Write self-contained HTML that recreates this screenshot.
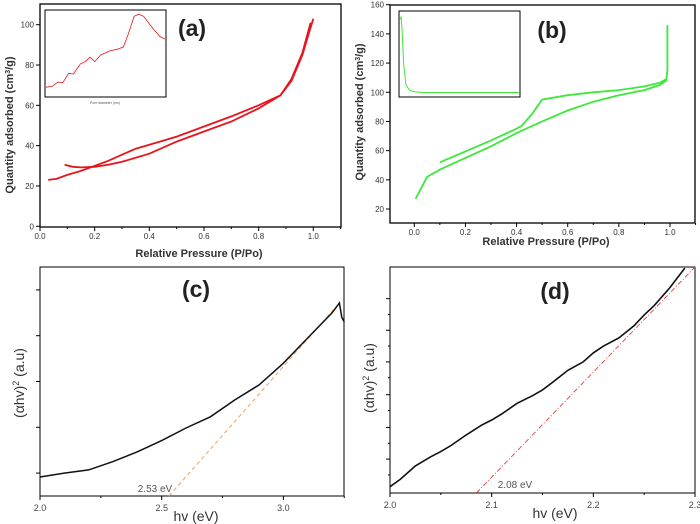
<!DOCTYPE html>
<html><head><meta charset="utf-8"><style>
html,body{margin:0;padding:0;background:#fff;width:700px;height:524px;overflow:hidden}
svg{display:block;font-family:"Liberation Sans",sans-serif}
</style></head><body>
<svg id="fig" width="700" height="524" viewBox="0 0 700 524"></svg>
<script>
// ---- Panel (a) data ----
const aAdsX=[0.03,0.06,0.1,0.15,0.2,0.25,0.3,0.35,0.4,0.5,0.6,0.7,0.8,0.88,0.92,0.96,0.98,1.0];
const aAdsY=[23,23.5,25.5,27.5,30,32.5,35.5,38.5,40.5,44.5,49.5,54.5,60,65,72,85,94,103];
const aDesX=[0.09,0.12,0.15,0.2,0.25,0.3,0.4,0.5,0.6,0.7,0.8,0.88,0.92,0.96,0.99];
const aDesY=[30.5,29.5,29.2,29.5,30.5,32,36,42,47,52,58.5,65,73,86,101];
const aInsetX=[0,0.05,0.1,0.14,0.19,0.23,0.29,0.33,0.37,0.41,0.46,0.54,0.6,0.65,0.69,0.74,0.78,0.82,0.9,0.96,1];
const aInsetY=[0.08,0.09,0.15,0.14,0.27,0.26,0.4,0.43,0.49,0.43,0.52,0.58,0.6,0.63,0.8,1.05,1.08,1.05,0.88,0.77,0.74];
const aXTicks=[0,0.2,0.4,0.6,0.8,1.0];
const aYTicks=[0,20,40,60,80,100];
// ---- Panel (b) data ----
const bAdsX=[0.005,0.05,0.1,0.2,0.3,0.4,0.5,0.6,0.7,0.8,0.9,0.96,0.985,0.99,0.99];
const bAdsY=[27,42,47,55,63,72,80,87.5,93.5,98,101.5,105,108,115,146];
const bDesX=[0.1,0.2,0.3,0.4,0.42,0.46,0.5,0.6,0.7,0.8,0.9,0.96,0.985];
const bDesY=[52,59.5,67,75,77,85,95,98,100,101.5,104,106.5,109];
const bInsetX=[0,0.01,0.02,0.03,0.05,0.08,0.12,0.2,0.5,1];
const bInsetY=[0.97,1.0,0.75,0.4,0.12,0.05,0.03,0.02,0.02,0.02];
const bXTicks=[0,0.2,0.4,0.6,0.8,1.0];
const bYTicks=[20,40,60,80,100,120,140,160];
// ---- Panel (c) data ----
const cX=[2.0,2.1,2.2,2.3,2.4,2.5,2.6,2.7,2.8,2.9,3.0,3.1,3.2,3.23,3.24,3.25];
const cY=[0.083,0.1,0.114,0.15,0.193,0.242,0.297,0.346,0.419,0.485,0.58,0.69,0.80,0.843,0.78,0.76];
const cFitX=[2.53,3.22];
const cFitY=[0,0.83];
const cXTicks=[2.0,2.5,3.0];
const cYTicks=[0.1,0.3,0.5,0.7,0.9];
// ---- Panel (d) data ----
const dX=[2.0,2.01,2.025,2.04,2.05,2.06,2.075,2.09,2.1,2.11,2.125,2.14,2.15,2.16,2.175,2.19,2.2,2.21,2.225,2.24,2.25,2.26,2.275,2.29];
const dY=[0.028,0.06,0.12,0.16,0.183,0.21,0.257,0.3,0.323,0.35,0.397,0.43,0.456,0.49,0.543,0.58,0.62,0.65,0.686,0.74,0.788,0.83,0.907,0.995];
const dFitX=[2.085,2.3];
const dFitY=[0,1.0];
const dXTicks=[2.0,2.1,2.2,2.3];
const dYTicks=[0.15,0.29,0.435,0.58,0.72,0.86];

const NS="http://www.w3.org/2000/svg";
const svg=document.getElementById('fig');
function mk(tag,attrs,parent){const e=document.createElementNS(NS,tag);for(const k in attrs)e.setAttribute(k,attrs[k]);(parent||svg).appendChild(e);return e;}
function scale(d0,d1,p0,p1){return v=>p0+(v-d0)*(p1-p0)/(d1-d0);}
function pathD(xs,ys,sx,sy){return xs.map((x,i)=>(i?'L':'M')+sx(x).toFixed(1)+','+sy(ys[i]).toFixed(1)).join(' ');}

// ===== Panel a =====
{const sx=scale(0,1,40,313.3), sy=scale(0,100,226.3,24.7);
const g=mk('g',{});  
const f=mk('rect',{x:40,y:4,width:301,height:223,fill:'none',stroke:'#000','stroke-width':1.3},g);
 
aXTicks.forEach(t=>{mk('line',{x1:sx(t),x2:sx(t),y1:227,y2:231,stroke:'#000'},g);
 mk('line',{x1:sx(t+0.1),x2:sx(t+0.1),y1:227,y2:229,stroke:'#000'},g);
 const l=mk('text',{x:sx(t),y:239,'font-size':8,'text-anchor':'middle',fill:'#333'},g);l.textContent=t.toFixed(1);
  });
aYTicks.forEach(t=>{mk('line',{x1:36,x2:40,y1:sy(t),y2:sy(t),stroke:'#000'},g);
 const l=mk('text',{x:34,y:sy(t)+3,'font-size':8,'text-anchor':'end',fill:'#333'},g);l.textContent=t;
  });
const xt=mk('text',{x:199,y:257,'font-size':11,'font-weight':'bold','text-anchor':'middle',fill:'#333'},g);xt.textContent='Relative Pressure (P/Po)';
 
const yt=mk('text',{x:13,y:125,'font-size':11,'font-weight':'bold','text-anchor':'middle',fill:'#333',transform:'rotate(-90 13 125)'},g);
yt.innerHTML='Quantity adsorbed (cm<tspan baseline-shift="super" font-size="7">3</tspan>/g)';
 
const p1=mk('path',{d:pathD(aAdsX,aAdsY,sx,sy),fill:'none',stroke:'#e8141c','stroke-width':1.8},g);
 
const p2=mk('path',{d:pathD(aDesX,aDesY,sx,sy),fill:'none',stroke:'#e8141c','stroke-width':1.8},g);
 
const ib=mk('rect',{x:45,y:10,width:121,height:87,fill:'#fff',stroke:'#000','stroke-width':1},g);
 
const isx=scale(0,1,46,165), isy=scale(0,1,93,20);
const ip=mk('path',{d:pathD(aInsetX,aInsetY,isx,isy),fill:'none',stroke:'#e8141c','stroke-width':0.8},g);
 
const it=mk('text',{x:105,y:104,'font-size':3.5,'text-anchor':'middle',fill:'#555'},g);it.textContent='Pore diameter (nm)';
 
const lb=mk('text',{x:192,y:36,'font-size':23,'font-weight':'bold','text-anchor':'middle',fill:'#222'},g);lb.textContent='(a)';
 }

// ===== Panel b =====
{const sx=scale(0,1,414.3,670), sy=scale(20,160,209,4.7);
const g=mk('g',{});  
const f=mk('rect',{x:390,y:5,width:305,height:218,fill:'none',stroke:'#000','stroke-width':1.3},g);
 
bXTicks.forEach(t=>{mk('line',{x1:sx(t),x2:sx(t),y1:223,y2:227,stroke:'#000'},g);
 mk('line',{x1:sx(t+0.1),x2:sx(t+0.1),y1:223,y2:225,stroke:'#000'},g);
 const l=mk('text',{x:sx(t),y:235,'font-size':8,'text-anchor':'middle',fill:'#333'},g);l.textContent=t.toFixed(1);
  });
bYTicks.forEach(t=>{mk('line',{x1:386,x2:390,y1:sy(t),y2:sy(t),stroke:'#000'},g);
 const l=mk('text',{x:384,y:sy(t)+3,'font-size':8,'text-anchor':'end',fill:'#333'},g);l.textContent=t;
  });
const xt=mk('text',{x:546,y:245,'font-size':11,'font-weight':'bold','text-anchor':'middle',fill:'#333'},g);xt.textContent='Relative Pressure (P/Po)';
 
const yt=mk('text',{x:363,y:112,'font-size':11,'font-weight':'bold','text-anchor':'middle',fill:'#333',transform:'rotate(-90 363 112)'},g);
yt.innerHTML='Quantity adsorbed (cm<tspan baseline-shift="super" font-size="7">3</tspan>/g)';
 
const p1=mk('path',{d:pathD(bAdsX,bAdsY,sx,sy),fill:'none',stroke:'#3de83a','stroke-width':1.8},g);
 
const p2=mk('path',{d:pathD(bDesX,bDesY,sx,sy),fill:'none',stroke:'#3de83a','stroke-width':1.8},g);
 
const ib=mk('rect',{x:399,y:11,width:121,height:86,fill:'#fff',stroke:'#000','stroke-width':1},g);
 
const isx=scale(0,1,400,519), isy=scale(0,1,94,17);
const ip=mk('path',{d:pathD(bInsetX,bInsetY,isx,isy),fill:'none',stroke:'#3de83a','stroke-width':1},g);
 
const lb=mk('text',{x:552,y:38,'font-size':23,'font-weight':'bold','text-anchor':'middle',fill:'#222'},g);lb.textContent='(b)';
 }

// ===== Panel c =====
{const sx=scale(2.0,2.5,40,161.7), sy=scale(0,1,496,267);
const g=mk('g',{});  
const f=mk('rect',{x:40,y:267,width:304,height:229,fill:'none',stroke:'#000','stroke-width':1},g);
 
cXTicks.forEach(t=>{mk('line',{x1:sx(t),x2:sx(t),y1:496,y2:500,stroke:'#000'},g);
 const l=mk('text',{x:sx(t),y:511,'font-size':9,'text-anchor':'middle',fill:'#444'},g);l.textContent=t.toFixed(1);
  });
[2.25,2.75,3.25].forEach(t=>mk('line',{x1:sx(t),x2:sx(t),y1:496,y2:498,stroke:'#000'},g));
cYTicks.forEach(t=>mk('line',{x1:36,x2:40,y1:sy(t),y2:sy(t),stroke:'#000'},g));
const xt=mk('text',{x:196,y:521,'font-size':14,'text-anchor':'middle',fill:'#333'},g);xt.textContent='hv (eV)';
 
const yt=mk('text',{x:24,y:383,'font-size':14,'text-anchor':'middle',fill:'#333',transform:'rotate(-90 24 383)'},g);
yt.innerHTML='(αhv)<tspan baseline-shift="super" font-size="9">2</tspan> (a.u)';
 
const fit=mk('path',{d:pathD(cFitX,cFitY,sx,sy),fill:'none',stroke:'#f0a060','stroke-width':1,'stroke-dasharray':'4,3'},g);
 
const p=mk('path',{d:pathD(cX,cY,sx,sy),fill:'none',stroke:'#111','stroke-width':1.5},g);
 
const ann=mk('text',{x:155,y:492,'font-size':10,'text-anchor':'middle',fill:'#555'},g);ann.textContent='2.53 eV';
 
const lb=mk('text',{x:196,y:297,'font-size':23,'font-weight':'bold','text-anchor':'middle',fill:'#222'},g);lb.textContent='(c)';
 }

// ===== Panel d =====
{const sx=scale(2.0,2.3,390,695), sy=scale(0,1,493,267);
const g=mk('g',{});  
const f=mk('rect',{x:390,y:267,width:305,height:226,fill:'none',stroke:'#000','stroke-width':1},g);
 
dXTicks.forEach(t=>{mk('line',{x1:sx(t),x2:sx(t),y1:493,y2:497,stroke:'#000'},g);
 const l=mk('text',{x:sx(t),y:508,'font-size':9,'text-anchor':'middle',fill:'#444'},g);l.textContent=t.toFixed(1);
  });
[2.05,2.15,2.25].forEach(t=>mk('line',{x1:sx(t),x2:sx(t),y1:493,y2:495,stroke:'#000'},g));
dYTicks.forEach(t=>{mk('line',{x1:386,x2:390,y1:sy(t),y2:sy(t),stroke:'#000'},g);
 mk('line',{x1:388,x2:390,y1:sy(t-0.07),y2:sy(t-0.07),stroke:'#000'},g);});
const xt=mk('text',{x:555,y:518,'font-size':14,'text-anchor':'middle',fill:'#333'},g);xt.textContent='hv (eV)';
 
const yt=mk('text',{x:374,y:378,'font-size':14,'text-anchor':'middle',fill:'#333',transform:'rotate(-90 374 378)'},g);
yt.innerHTML='(αhv)<tspan baseline-shift="super" font-size="9">2</tspan> (a.u)';
 
const fit=mk('path',{d:pathD(dFitX,dFitY,sx,sy),fill:'none',stroke:'#e04040','stroke-width':0.9,'stroke-dasharray':'5,2,1,2'},g);
 
const p=mk('path',{d:pathD(dX,dY,sx,sy),fill:'none',stroke:'#111','stroke-width':1.6},g);
 
const ann=mk('text',{x:515,y:488,'font-size':10,'text-anchor':'middle',fill:'#555'},g);ann.textContent='2.08 eV';
 
const lb=mk('text',{x:555,y:299,'font-size':23,'font-weight':'bold','text-anchor':'middle',fill:'#222'},g);lb.textContent='(d)';
 }
</script>
</body></html>
